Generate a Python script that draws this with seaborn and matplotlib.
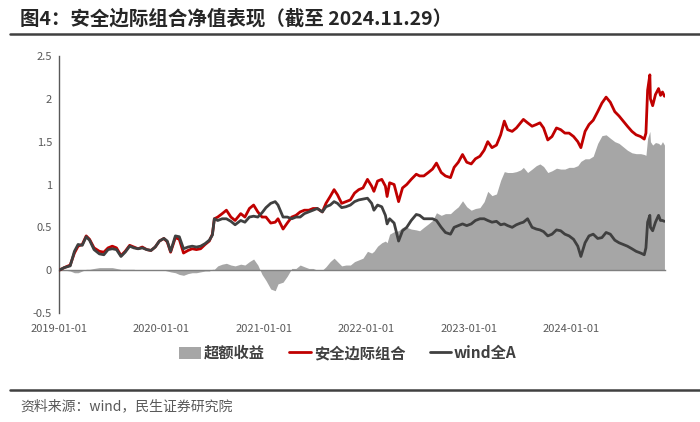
import matplotlib
matplotlib.use("Agg")
import matplotlib.pyplot as plt
from matplotlib.lines import Line2D
from matplotlib.patches import Patch
import pandas as pd
import seaborn as sns

# ---------------- data ----------------
dates = [
    "2019-01-02", "2019-01-20", "2019-02-10", "2019-02-25", "2019-03-10", "2019-03-25",
    "2019-04-08", "2019-04-20", "2019-05-06", "2019-05-25", "2019-06-10", "2019-06-25",
    "2019-07-10", "2019-07-25", "2019-08-10", "2019-08-25", "2019-09-10", "2019-09-25",
    "2019-10-10", "2019-10-25", "2019-11-10", "2019-11-25", "2019-12-10", "2019-12-25",
    "2020-01-10", "2020-01-22", "2020-02-03", "2020-02-20", "2020-03-05", "2020-03-20",
    "2020-04-05", "2020-04-20", "2020-05-05", "2020-05-20", "2020-06-05", "2020-06-20",
    "2020-07-01", "2020-07-08", "2020-07-20", "2020-08-05", "2020-08-20", "2020-09-05",
    "2020-09-20", "2020-10-10", "2020-10-25", "2020-11-10", "2020-11-25", "2020-12-10",
    "2020-12-25",
    "2021-01-08", "2021-01-25", "2021-02-10", "2021-02-20", "2021-03-10", "2021-03-25",
    "2021-04-10", "2021-04-25", "2021-05-10", "2021-05-25", "2021-06-10", "2021-06-25",
    "2021-07-10", "2021-07-28", "2021-08-10", "2021-08-25", "2021-09-08", "2021-09-20",
    "2021-10-05", "2021-10-20", "2021-11-05", "2021-11-20", "2021-12-05", "2021-12-20",
    "2022-01-05", "2022-01-20", "2022-01-28", "2022-02-10", "2022-02-25", "2022-03-10",
    "2022-03-16", "2022-03-25", "2022-04-10", "2022-04-26", "2022-05-10", "2022-05-25",
    "2022-06-10", "2022-06-28", "2022-07-10", "2022-07-25", "2022-08-10", "2022-08-25",
    "2022-09-08", "2022-09-25", "2022-10-10", "2022-10-28", "2022-11-10", "2022-11-25",
    "2022-12-10", "2022-12-25",
    "2023-01-10", "2023-01-25", "2023-02-10", "2023-02-25", "2023-03-10", "2023-03-25",
    "2023-04-10", "2023-04-25", "2023-05-08", "2023-05-20", "2023-06-05", "2023-06-20",
    "2023-07-05", "2023-07-15", "2023-07-30", "2023-08-15", "2023-08-30", "2023-09-12",
    "2023-09-25", "2023-10-10", "2023-10-25", "2023-11-10", "2023-11-25", "2023-12-10",
    "2023-12-25",
    "2024-01-10", "2024-01-25", "2024-02-05", "2024-02-20", "2024-03-05", "2024-03-20",
    "2024-04-05", "2024-04-20", "2024-05-05", "2024-05-20", "2024-06-05", "2024-06-20",
    "2024-07-05", "2024-07-20", "2024-08-05", "2024-08-20", "2024-09-05", "2024-09-18",
    "2024-09-24", "2024-09-30", "2024-10-08", "2024-10-10", "2024-10-18", "2024-10-28",
    "2024-11-08", "2024-11-15", "2024-11-22", "2024-11-29",
]

portfolio = [  # 安全边际组合
    0.00, 0.03, 0.06, 0.20, 0.28, 0.30, 0.40, 0.36, 0.26, 0.22, 0.21, 0.26,
    0.28, 0.26, 0.17, 0.22, 0.29, 0.27, 0.25, 0.27, 0.24, 0.23, 0.27, 0.34,
    0.37, 0.33, 0.21, 0.38, 0.36, 0.20, 0.23, 0.25, 0.24, 0.25, 0.30, 0.34,
    0.42, 0.60, 0.62, 0.66, 0.70, 0.62, 0.58, 0.66, 0.62, 0.72, 0.76, 0.68,
    0.62,
    0.62, 0.55, 0.56, 0.60, 0.48, 0.55, 0.62, 0.64, 0.68, 0.70, 0.70, 0.72,
    0.72, 0.68, 0.78, 0.86, 0.94, 0.88, 0.78, 0.80, 0.82, 0.90, 0.94, 0.96,
    1.06, 0.98, 0.92, 1.04, 1.06, 0.98, 0.86, 1.02, 1.00, 0.80, 0.96, 1.00,
    1.06, 1.12, 1.10, 1.10, 1.14, 1.18, 1.25, 1.14, 1.10, 1.08, 1.20, 1.26,
    1.35, 1.26,
    1.24, 1.30, 1.33, 1.40, 1.50, 1.43, 1.46, 1.58, 1.74, 1.64, 1.62, 1.66,
    1.72, 1.76, 1.72, 1.68, 1.70, 1.72, 1.66, 1.52, 1.56, 1.66, 1.64, 1.60,
    1.60,
    1.56, 1.50, 1.43, 1.62, 1.70, 1.75, 1.85, 1.95, 2.02, 1.96, 1.85, 1.80,
    1.74, 1.68, 1.62, 1.58, 1.56, 1.53, 1.60, 2.10, 2.28, 2.00, 1.92, 2.05,
    2.12, 2.04, 2.08, 2.03,
]

wind_a = [  # wind全A
    0.00, 0.03, 0.05, 0.22, 0.30, 0.29, 0.39, 0.35, 0.24, 0.19, 0.18, 0.24,
    0.25, 0.24, 0.16, 0.21, 0.28, 0.26, 0.25, 0.26, 0.24, 0.23, 0.27, 0.34,
    0.37, 0.34, 0.22, 0.40, 0.39, 0.25, 0.27, 0.28, 0.27, 0.28, 0.31, 0.35,
    0.41, 0.60, 0.58, 0.60, 0.60, 0.57, 0.53, 0.58, 0.56, 0.62, 0.63, 0.62,
    0.67,
    0.73, 0.78, 0.80, 0.76, 0.62, 0.62, 0.60, 0.62, 0.62, 0.66, 0.68, 0.70,
    0.72, 0.68, 0.74, 0.76, 0.80, 0.78, 0.73, 0.74, 0.76, 0.80, 0.82, 0.83,
    0.84, 0.78, 0.70, 0.76, 0.74, 0.64, 0.54, 0.60, 0.55, 0.34, 0.46, 0.50,
    0.58, 0.65, 0.64, 0.60, 0.60, 0.60, 0.58, 0.50, 0.44, 0.42, 0.50, 0.52,
    0.54, 0.52,
    0.54, 0.58, 0.60, 0.60, 0.58, 0.56, 0.57, 0.53, 0.54, 0.52, 0.50, 0.53,
    0.55, 0.56, 0.60, 0.50, 0.48, 0.47, 0.45, 0.40, 0.42, 0.47, 0.46, 0.42,
    0.40,
    0.36, 0.28, 0.16, 0.32, 0.40, 0.42, 0.37, 0.38, 0.44, 0.42, 0.35, 0.32,
    0.30, 0.28, 0.25, 0.22, 0.20, 0.18, 0.26, 0.56, 0.64, 0.50, 0.46, 0.56,
    0.64, 0.58, 0.58, 0.57,
]

excess = [  # 超额收益
    0.00, 0.00, -0.01, -0.03, -0.03, -0.01, 0.01, 0.01, 0.02, 0.03, 0.03, 0.03,
    0.03, 0.02, 0.01, 0.01, 0.01, 0.01, 0.00, 0.00, 0.00, 0.00, 0.00, 0.00,
    0.00, -0.01, -0.02, -0.03, -0.05, -0.06, -0.04, -0.03, -0.03, -0.02, -0.01, -0.01,
    0.01, 0.01, 0.05, 0.07, 0.08, 0.06, 0.05, 0.07, 0.06, 0.10, 0.13, 0.06,
    -0.05,
    -0.12, -0.22, -0.24, -0.16, -0.14, -0.07, 0.02, 0.02, 0.06, 0.04, 0.02, 0.02,
    0.00, 0.00, 0.04, 0.10, 0.14, 0.10, 0.05, 0.06, 0.06, 0.10, 0.12, 0.14,
    0.22, 0.20, 0.22, 0.28, 0.32, 0.34, 0.32, 0.42, 0.45, 0.46, 0.50, 0.50,
    0.48, 0.47, 0.46, 0.50, 0.54, 0.58, 0.67, 0.64, 0.66, 0.66, 0.70, 0.74,
    0.81, 0.74,
    0.70, 0.72, 0.73, 0.80, 0.92, 0.87, 0.89, 1.05, 1.15, 1.14, 1.14, 1.15,
    1.17, 1.20, 1.14, 1.18, 1.22, 1.24, 1.21, 1.14, 1.16, 1.19, 1.18, 1.18,
    1.20,
    1.20, 1.22, 1.27, 1.30, 1.30, 1.33, 1.48, 1.57, 1.58, 1.54, 1.50, 1.48,
    1.44, 1.40, 1.37, 1.36, 1.36, 1.35, 1.34, 1.54, 1.62, 1.50, 1.46, 1.49,
    1.48, 1.46, 1.50, 1.46,
]

series_names = ["超额收益", "安全边际组合", "wind全A"]
x_tick_labels = ["2019-01-01", "2020-01-01", "2021-01-01",
                 "2022-01-01", "2023-01-01", "2024-01-01"]
y_ticks = [-0.5, 0, 0.5, 1, 1.5, 2, 2.5]

title_text = "图4：安全边际组合净值表现（截至 2024.11.29）"
source_text = "资料来源：wind，民生证券研究院"

# ---------------- styling ----------------
sns.set_theme(style="white")
plt.rcParams["font.family"] = ["Noto Sans CJK SC", "DejaVu Sans"]
plt.rcParams["axes.unicode_minus"] = False

RED = "#C00000"
DARK = "#404040"
GREY = "#A6A6A6"
TXT = "#595959"

df = pd.DataFrame({
    "date": pd.to_datetime(dates),
    "portfolio": portfolio,
    "wind": wind_a,
    "excess": excess,
})

fig = plt.figure(figsize=(7.0, 4.22), dpi=100)
ax = fig.add_axes([59 / 700, 1 - 313 / 422, (665 - 59) / 700, (313 - 56) / 422])

ax.fill_between(df["date"], 0, df["excess"], color=GREY, linewidth=0, zorder=1)
sns.lineplot(data=df, x="date", y="portfolio", ax=ax, color=RED, linewidth=2.0,
             zorder=3, legend=False)
sns.lineplot(data=df, x="date", y="wind", ax=ax, color=DARK, linewidth=2.0,
             zorder=4, legend=False)

ax.set_xlim(pd.Timestamp("2019-01-01"), pd.Timestamp("2024-12-01"))
ax.set_ylim(-0.5, 2.5)
ax.set_xlabel("")
ax.set_ylabel("")

ax.set_xticks(pd.to_datetime(x_tick_labels))
ax.set_xticklabels(x_tick_labels)
ax.set_yticks(y_ticks)
ax.set_yticklabels([f"{v:g}" for v in y_ticks])

for s in ["top", "right"]:
    ax.spines[s].set_visible(False)
ax.spines["bottom"].set_position(("data", 0))
ax.spines["bottom"].set_color("#7F7F7F")
ax.spines["bottom"].set_linewidth(1.0)
ax.spines["bottom"].set_zorder(2)
ax.spines["left"].set_color("#595959")
ax.spines["left"].set_linewidth(1.0)

ax.tick_params(axis="x", direction="out", length=3, width=0.8, color="#7F7F7F",
               pad=36, labelsize=8, labelcolor=TXT)
ax.tick_params(axis="y", direction="out", length=3, width=0.8, color="#595959",
               pad=2, labelsize=8, labelcolor=TXT)
ax.grid(False)

# legend
handles = [
    Patch(facecolor=GREY, edgecolor="none"),
    Line2D([0], [0], color=RED, linewidth=2),
    Line2D([0], [0], color=DARK, linewidth=2),
]
leg = fig.legend(handles, series_names, loc="center", ncol=3,
                 bbox_to_anchor=(348 / 700, 1 - 353 / 422), frameon=False,
                 handlelength=1.4, handleheight=0.8, handletextpad=0.2,
                 columnspacing=1.6,
                 prop={"size": 11, "weight": "bold"})
for t in leg.get_texts():
    t.set_color(DARK)

# title and separators
fig.text(20 / 700, 1 - 19 / 422, title_text, fontsize=14, fontweight="bold",
         color="#262626", va="center", ha="left")
fig.add_artist(Line2D([10 / 700, 1.0], [1 - 34 / 422] * 2, color="#404040",
                      linewidth=1.8))
fig.add_artist(Line2D([10 / 700, 1.0], [1 - 390 / 422] * 2, color="#404040",
                      linewidth=1.8))
fig.text(20 / 700, 1 - 406 / 422, source_text, fontsize=10, color=TXT,
         va="center", ha="left")

fig.savefig("out.png", dpi=100)
